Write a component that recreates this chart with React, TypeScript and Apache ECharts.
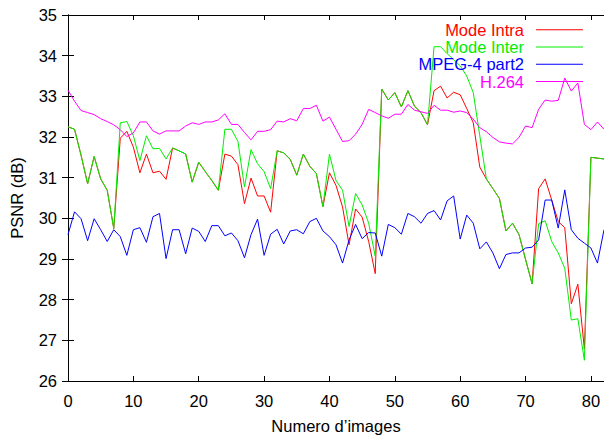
import React, { useEffect, useRef } from "react";
import * as echarts from "echarts";

const frames: number[] = Array.from({ length: 83 }, (_, i) => i);

const modeIntra: number[] = [
  32.25, 32.19, 31.55, 30.85, 31.52, 30.97, 30.69, 29.75, 31.97, 32.14,
  31.75, 31.12, 31.58, 31.12, 31.16, 30.96, 31.73, 31.66, 31.58, 30.89,
  31.38, 31.15, 30.93, 30.69, 31.58, 31.53, 31.32, 30.36, 30.99, 30.55,
  30.55, 30.15, 31.66, 31.61, 31.45, 31.06, 31.58, 31.28, 31.1, 30.29,
  31.12, 30.81, 30.28, 29.35, 30.23, 30.03, 29.43, 28.64, 33.18, 32.91,
  33.09, 32.74, 33.14, 32.76, 32.6, 32.3, 33.14, 33.25, 32.96, 33.1,
  33.04, 32.7, 32.35, 31.26, 30.97, 30.73, 30.49, 29.69, 29.88, 29.6,
  28.99, 28.39, 30.73, 30.97, 30.45, 29.92, 29.77, 27.9, 28.38, 26.79,
  31.5, 31.48, 31.46,
];

const modeInter: number[] = [
  32.25, 32.19, 31.55, 30.85, 31.52, 30.97, 30.69, 29.75, 32.35, 32.38,
  32.03, 31.42, 32.03, 31.71, 31.72, 31.46, 31.73, 31.66, 31.58, 30.89,
  31.38, 31.15, 30.93, 30.69, 32.19, 32.19, 31.89, 30.77, 31.69, 31.34,
  31.15, 30.73, 31.66, 31.61, 31.45, 31.06, 31.58, 31.28, 31.1, 30.29,
  31.58, 30.93, 30.69, 29.8, 30.61, 30.33, 29.88, 29.07, 33.18, 32.91,
  33.09, 32.74, 33.14, 32.76, 32.6, 32.3, 34.22, 34.22, 34.05, 33.9,
  33.75, 33.5, 33.09, 32.03, 30.97, 30.73, 30.49, 29.69, 29.88, 29.6,
  28.99, 28.39, 29.87, 29.94, 29.43, 29.15, 28.77, 27.5, 27.53, 26.51,
  31.5, 31.48, 31.46,
];

const mpeg4: number[] = [
  29.6, 30.16, 29.99, 29.45, 29.99, 29.72, 29.43, 29.72, 29.55, 29.09,
  29.72, 29.77, 29.41, 30.04, 30.12, 29.01, 29.72, 29.72, 29.13, 29.76,
  29.68, 29.43, 29.82, 29.82, 29.57, 29.64, 29.45, 29.03, 29.6, 29.98,
  29.09, 29.61, 29.73, 29.37, 29.69, 29.72, 29.62, 29.92, 30.0, 29.69,
  29.55, 29.35, 28.9, 29.47, 29.85, 29.5, 29.65, 29.64, 29.07, 29.85,
  29.77, 29.61, 30.12, 30.04, 29.88, 30.12, 30.19, 29.96, 30.43, 30.55,
  29.49, 30.08, 29.88, 29.25, 29.42, 29.15, 28.76, 29.11, 29.15, 29.15,
  29.27, 29.29, 29.47, 30.45, 30.45, 29.76, 30.7, 29.72, 29.51, 29.39,
  29.27, 28.9, 29.72,
];

const h264: number[] = [
  33.15, 32.88, 32.65, 32.6, 32.55, 32.45, 32.38, 32.3, 32.18, 32.01,
  32.1, 32.37, 32.37, 32.15, 32.07, 32.15, 32.15, 32.15, 32.27, 32.35,
  32.31, 32.37, 32.37, 32.42, 32.57, 32.31, 32.31, 32.11, 31.93, 32.14,
  32.14, 32.18, 32.39, 32.37, 32.45, 32.4, 32.7, 32.7, 32.78, 32.39,
  32.49, 32.19, 31.89, 31.91, 32.07, 32.31, 32.68, 32.6, 32.52, 32.46,
  32.56, 32.56, 32.8, 32.66, 32.62, 32.58, 32.78, 32.66, 32.66, 32.61,
  32.64, 32.6, 32.44, 32.23, 32.13, 31.99, 31.88, 31.85, 31.83, 31.99,
  32.27, 32.23, 32.68, 32.91, 32.88, 32.9, 33.45, 33.13, 33.33, 32.31,
  32.18, 32.37, 32.19,
];

const seriesNames = ["Mode Intra", "Mode Inter", "MPEG-4 part2", "H.264"];
const seriesColors = ["#ff0000", "#00ee00", "#0000ff", "#ff00ff"];
const seriesValues = [modeIntra, modeInter, mpeg4, h264];

const FONT = "'Liberation Sans', Arial, Helvetica, sans-serif";
const FS = 16.5;

export default function App() {
  const ref = useRef<HTMLDivElement>(null);

  useEffect(() => {
    if (!ref.current) return;
    const chart = echarts.init(ref.current, undefined, { renderer: "svg" });

    const axisLine = { show: true, lineStyle: { color: "#000", width: 1 } };
    const tickStyle = { color: "#000", width: 1 };

    chart.setOption({
      animation: false,
      backgroundColor: "#ffffff",
      textStyle: { fontFamily: FONT },
      grid: { left: 68, right: 0, top: 15, bottom: 55, containLabel: false },
      legend: {
        orient: "vertical",
        align: "right",
        right: 21,
        top: 21,
        padding: 0,
        itemGap: 0,
        itemWidth: 47,
        itemHeight: 1,
        icon: "rect",
        data: seriesNames.map((n, i) => ({
          name: n,
          icon: "rect",
          itemStyle: { color: seriesColors[i] },
          textStyle: { color: seriesColors[i] },
        })),
        textStyle: {
          fontFamily: FONT,
          fontSize: FS,
          lineHeight: 17.3,
          padding: [0, 7, 0, 0],
        },
      },
      xAxis: [
        {
          type: "value",
          min: 0,
          max: 82,
          interval: 10,
          position: "bottom",
          name: "Numero d\u2019images",
          nameLocation: "middle",
          nameGap: 36,
          nameTextStyle: { fontFamily: FONT, fontSize: FS, color: "#000" },
          axisLine,
          axisTick: { show: true, inside: true, length: 5, lineStyle: tickStyle },
          axisLabel: {
            fontFamily: FONT,
            fontSize: FS,
            color: "#000",
            margin: 11,
            showMaxLabel: false,
            formatter: (v: number) => (v % 10 === 0 ? String(v) : ""),
          },
          splitLine: { show: false },
        },
        {
          type: "value",
          min: 0,
          max: 82,
          interval: 10,
          position: "top",
          axisLine,
          axisTick: { show: true, inside: true, length: 5, lineStyle: tickStyle },
          axisLabel: { show: false },
          splitLine: { show: false },
        },
      ],
      yAxis: [
        {
          type: "value",
          min: 26,
          max: 35,
          interval: 1,
          position: "left",
          name: "PSNR (dB)",
          nameLocation: "middle",
          nameGap: 43,
          nameTextStyle: { fontFamily: FONT, fontSize: FS, color: "#000" },
          axisLine,
          axisTick: { show: true, inside: true, length: 6, lineStyle: tickStyle },
          axisLabel: { fontFamily: FONT, fontSize: FS, color: "#000", margin: 11 },
          splitLine: { show: false },
        },
        {
          type: "value",
          min: 26,
          max: 35,
          interval: 1,
          position: "right",
          axisLine,
          axisTick: { show: true, inside: true, length: 6, lineStyle: tickStyle },
          axisLabel: { show: false },
          splitLine: { show: false },
        },
      ],
      series: seriesNames.map((n, i) => ({
        name: n,
        type: "line",
        xAxisIndex: 0,
        yAxisIndex: 0,
        data: frames.map((f, j) => [f, seriesValues[i][j]]),
        symbol: "none",
        showSymbol: false,
        clip: true,
        color: seriesColors[i],
        lineStyle: { color: seriesColors[i], width: 1 },
        emphasis: { disabled: true },
      })),
    });

    return () => {
      chart.dispose();
    };
  }, []);

  return (
    <div
      ref={ref}
      style={{ position: "fixed", left: 0, top: 0, width: 604, height: 439 }}
    />
  );
}
